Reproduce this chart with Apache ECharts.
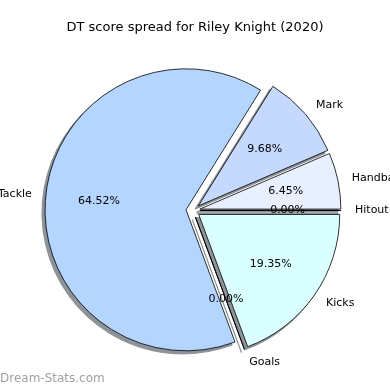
<!DOCTYPE html>
<html><head><meta charset="utf-8">
<script src="https://cdn.jsdelivr.net/npm/echarts@6/dist/echarts.min.js"></script>
<style>html,body{margin:0;padding:0;background:#fff}#c{width:390px;height:390px}</style>
</head><body><div id="c"></div>
<script>
const categories = ['Hitout', 'Handball', 'Mark', 'Tackle', 'Goals', 'Kicks'];
const values = [0, 2, 3, 20, 0, 6];
const colors = ['#d0d0ff', '#e8f0ff', '#c5d9ff', '#b3d5ff', '#c0ffe0', '#d9ffff'];
const explodeOffsets = [9, 9, 8, 7, 9, 9];
const titleText = 'DT score spread for Riley Knight (2020)';
const watermark = 'Dream-Stats.com';

const total = values.reduce((a, b) => a + b, 0);
const R = 141, CX = 193, CY = 210.5;
const font = 'DejaVu Sans';

const mk = (withColor) => categories.map((n, i) => {
  const d = { name: n, value: values[i], selected: true, selectedOffset: explodeOffsets[i] };
  if (withColor) d.itemStyle = { color: colors[i] };
  return d;
});

const common = {
  type: 'pie', startAngle: 0, clockwise: false,
  selectedMode: 'multiple', selectedOffset: 7,
  avoidLabelOverlap: false, silent: true,
  emphasis: { disabled: true }
};

const chart = echarts.init(document.getElementById('c'), null, { renderer: 'canvas' });
chart.setOption({
  animation: false,
  title: {
    text: titleText, left: 'center', top: 16,
    textStyle: { fontFamily: font, fontSize: 13, fontWeight: 'normal', color: '#000' }
  },
  graphic: [{
    type: 'text', left: 0, top: 373,
    style: { text: watermark, fontFamily: font, fontSize: 12, fontWeight: 'normal', fill: '#a0a0a0' }
  }],
  series: [
    Object.assign({}, common, {
      center: [CX - 3, CY + 3], radius: [0, R],
      data: mk(false),
      itemStyle: { color: '#8e9399', borderColor: '#8e9399', borderWidth: 1.2 },
      label: { show: false }, labelLine: { show: false }
    }),
    Object.assign({}, common, {
      center: [CX, CY], radius: [0, R],
      data: mk(true),
      itemStyle: { borderColor: '#000', borderWidth: 0.8 },
      label: {
        show: true, position: 'outside', distanceToLabelLine: 0,
        fontFamily: font, fontSize: 11, color: '#000',
        formatter: p => p.name
      },
      labelLine: { show: false, length: 14, length2: 0 }
    }),
    Object.assign({}, common, {
      center: [CX, CY], radius: [0, R * 1.2],
      data: mk(false),
      itemStyle: { color: 'rgba(0,0,0,0)', borderWidth: 0 },
      label: {
        show: true, position: 'inside',
        fontFamily: font, fontSize: 11, color: '#000',
        formatter: p => (p.value / total * 100).toFixed(2) + '%'
      },
      labelLine: { show: false }
    })
  ]
});
</script></body></html>
